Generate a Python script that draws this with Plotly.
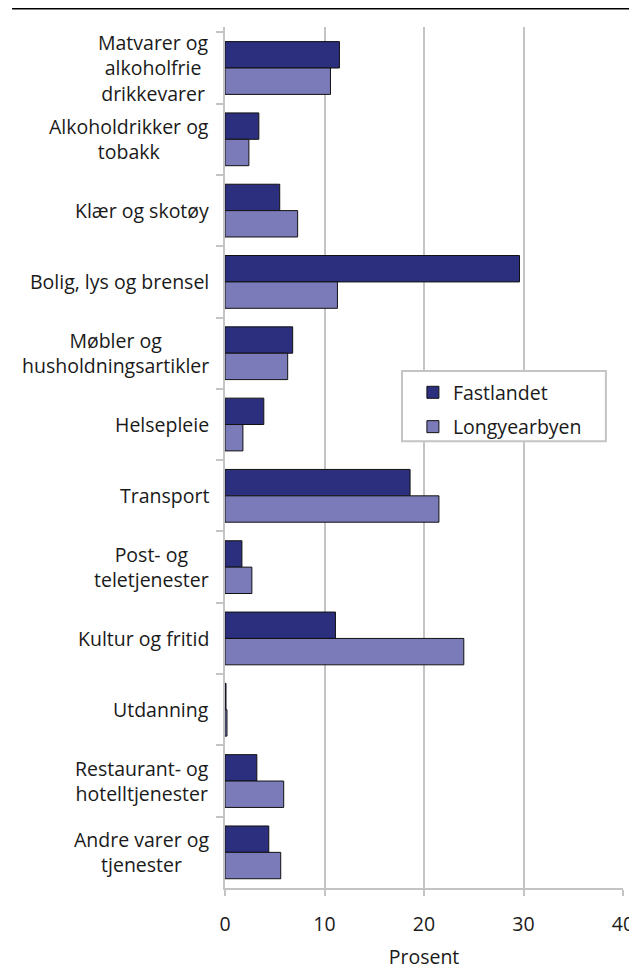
import plotly.graph_objects as go

categories = [
    "Matvarer og<br>alkoholfrie<br>drikkevarer",
    "Alkoholdrikker og<br>tobakk",
    "Klær og skotøy",
    "Bolig, lys og brensel",
    "Møbler og<br>husholdningsartikler",
    "Helsepleie",
    "Transport",
    "Post- og<br>teletjenester",
    "Kultur og fritid",
    "Utdanning",
    "Restaurant- og<br>hotelltjenester",
    "Andre varer og<br>tjenester",
]
fastlandet = [11.5, 3.4, 5.5, 29.6, 6.8, 3.9, 18.6, 1.7, 11.1, 0.1, 3.2, 4.4]
longyearbyen = [10.6, 2.4, 7.3, 11.3, 6.3, 1.8, 21.5, 2.7, 24.0, 0.2, 5.9, 5.6]
x_ticks = [0, 10, 20, 30, 40]

FONT = "Open Sans"
FS = 19.5
GRID = "#c4c4c4"

fig = go.Figure()
fig.add_trace(go.Bar(
    y=categories, x=fastlandet, orientation="h", name="Fastlandet",
    legendgroup="a",
    marker=dict(color="#2b2f7e", line=dict(color="#111111", width=1)),
))
fig.add_trace(go.Bar(
    y=categories, x=longyearbyen, orientation="h", name="Longyearbyen",
    legendgroup="b",
    marker=dict(color="#7b7bba", line=dict(color="#111111", width=1)),
))

for c in categories:
    fig.add_annotation(
        x=0, xref="paper", y=c, yref="y", text=c, showarrow=False,
        xanchor="right", xshift=-14, align="center",
        font=dict(family=FONT, size=FS, color="#1a1a1a"),
    )

# top rule
fig.add_shape(type="line", xref="paper", yref="paper",
              x0=-0.535, x1=1.06, y0=1.022, y1=1.022,
              line=dict(color="black", width=3))
# legend frame
fig.add_shape(type="rect", xref="paper", yref="paper", layer="above",
              x0=0.4447, x1=0.957, y0=0.519, y1=0.6005,
              fillcolor="white", line=dict(color=GRID, width=2))

fig.update_layout(
    width=629, height=962,
    margin=dict(l=217, r=14, t=19, b=82, autoexpand=False),
    paper_bgcolor="white", plot_bgcolor="white",
    barmode="group", bargap=0.26, bargroupgap=0,
    font=dict(family=FONT, size=FS, color="#1a1a1a"),
    showlegend=True,
    legend=dict(
        x=0.447, y=0.598, xanchor="left", yanchor="top",
        borderwidth=0, bgcolor="rgba(0,0,0,0)",
        font=dict(family=FONT, size=FS, color="#1a1a1a"),
        tracegroupgap=6, indentation=10,
    ),
    xaxis=dict(
        range=[0, 40], tickvals=x_ticks, ticktext=[str(v) for v in x_ticks],
        showgrid=True, gridcolor=GRID, gridwidth=2,
        showline=True, linecolor=GRID, linewidth=2,
        ticks="outside", ticklen=6, tickcolor=GRID, tickwidth=2,
        zeroline=False, automargin=False, ticklabelstandoff=12,
        title=dict(text="Prosent", font=dict(family=FONT, size=FS), standoff=17),
        tickfont=dict(family=FONT, size=FS),
    ),
    yaxis=dict(
        autorange="reversed", showticklabels=False, automargin=False,
        showline=True, linecolor=GRID, linewidth=2,
        ticks="outside", tickson="boundaries", ticklen=7,
        tickcolor=GRID, tickwidth=2, showgrid=False,
    ),
)

fig.write_html("out.html")
